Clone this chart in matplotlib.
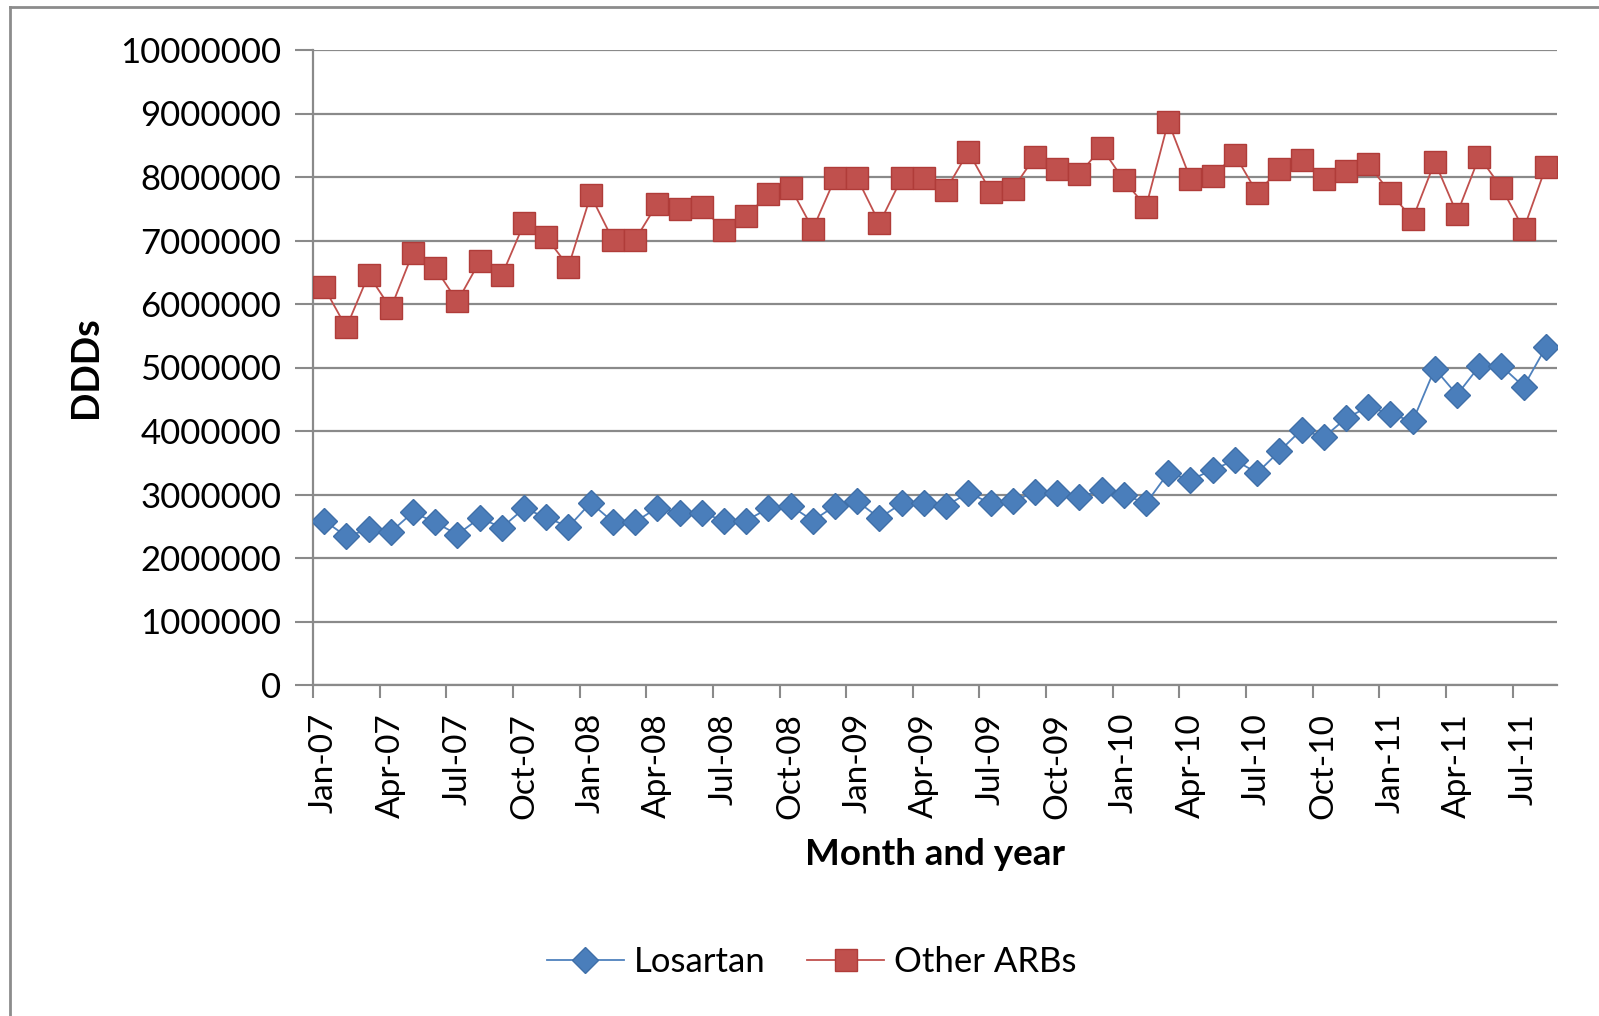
import matplotlib
matplotlib.use("Agg")
import matplotlib.pyplot as plt
from matplotlib.lines import Line2D

months = ["Jan", "Feb", "Mar", "Apr", "May", "Jun", "Jul", "Aug", "Sep", "Oct", "Nov", "Dec"]
categories = [f"{months[m]}-{y:02d}" for y in range(7, 12) for m in range(12)][:56]

losartan = [2.59, 2.34, 2.45, 2.41, 2.72, 2.56, 2.37, 2.63, 2.48, 2.78, 2.64, 2.49,
            2.87, 2.57, 2.57, 2.79, 2.71, 2.71, 2.59, 2.59, 2.78, 2.82, 2.59, 2.82,
            2.89, 2.63, 2.86, 2.86, 2.82, 3.03, 2.86, 2.89, 3.04, 3.02, 2.96, 3.07,
            3.00, 2.86, 3.34, 3.23, 3.39, 3.54, 3.34, 3.68, 4.02, 3.90, 4.20, 4.38,
            4.27, 4.15, 4.98, 4.57, 5.02, 5.02, 4.70, 5.32]
other_arbs = [6.26, 5.63, 6.46, 5.93, 6.81, 6.57, 6.04, 6.67, 6.45, 7.27, 7.05, 6.59,
              7.71, 7.01, 7.01, 7.58, 7.50, 7.53, 7.16, 7.38, 7.73, 7.83, 7.18, 7.98,
              7.98, 7.27, 7.98, 7.98, 7.80, 8.40, 7.77, 7.81, 8.32, 8.12, 8.05, 8.46,
              7.95, 7.53, 8.87, 7.97, 8.01, 8.35, 7.75, 8.12, 8.27, 7.97, 8.09, 8.20,
              7.75, 7.34, 8.24, 7.42, 8.32, 7.83, 7.18, 8.16]
losartan = [v * 1e6 for v in losartan]
other_arbs = [v * 1e6 for v in other_arbs]
yticks = list(range(0, 10000001, 1000000))

FONT = "Lato"
W, H = 1599, 1016
fig = plt.figure(figsize=(W / 100, H / 100), dpi=100)
fig.patch.set_facecolor("white")

# outer chart border (left and top visible)
fig.add_artist(Line2D([10 / W, 10 / W], [0, 1 - 7 / H], color="#8c8c8c", lw=2))
fig.add_artist(Line2D([10 / W, 1], [1 - 7 / H, 1 - 7 / H], color="#8c8c8c", lw=2))

ax = fig.add_axes([313 / W, 1 - 685 / H, (1557 - 313) / W, (685 - 50) / H])
x = list(range(len(categories)))

ax.plot(x, other_arbs, color="#C0504D", lw=1.3, marker="s", ms=16,
        markerfacecolor="#C0504D", markeredgecolor="#B03C39", markeredgewidth=1, zorder=3)
ax.plot(x, losartan, color="#4F81BD", lw=1.3, marker="D", ms=13.5,
        markerfacecolor="#4A7EBB", markeredgecolor="#3F6FA8", markeredgewidth=1, zorder=3)

ax.set_xlim(-0.5, len(categories) - 0.5)
ax.set_ylim(0, 10000000)
ax.set_yticks(yticks)
ax.set_yticklabels([str(v) for v in yticks], fontsize=25, family=FONT)
ax.yaxis.grid(True, color="#8a8a8a", lw=1.6)
ax.set_axisbelow(True)

major = list(range(0, len(categories), 3))
ax.set_xticks(major)
ax.set_xticklabels([categories[i] for i in major], rotation=90, fontsize=24, family=FONT)
ax.set_xticks([i - 0.5 for i in major], minor=True)
ax.tick_params(axis="x", which="major", length=0, pad=20)
ax.tick_params(axis="x", which="minor", length=9, width=1.5, color="#8a8a8a")
ax.tick_params(axis="y", length=13, width=1.5, color="#8a8a8a", pad=10)

for s in ["top", "right"]:
    ax.spines[s].set_visible(False)
for s in ["left", "bottom"]:
    ax.spines[s].set_color("#8a8a8a")
    ax.spines[s].set_linewidth(1.6)

ax.set_ylabel("DDDs", fontsize=27, fontweight="bold", family=FONT, labelpad=12)
ax.set_xlabel("Month and year", fontsize=26.5, fontweight="bold", family=FONT, labelpad=14)

handles = [Line2D([], [], color="#4F81BD", lw=1.3, marker="D", ms=13.5,
                  markerfacecolor="#4A7EBB", markeredgecolor="#3F6FA8"),
           Line2D([], [], color="#C0504D", lw=1.3, marker="s", ms=16,
                  markerfacecolor="#C0504D", markeredgecolor="#B03C39")]
fig.legend(handles, ["Losartan", "Other ARBs"], loc="center", bbox_to_anchor=(812 / W, 1 - 962 / H),
           ncol=2, frameon=False, prop={"family": FONT, "size": 25}, handlelength=2.2,
           columnspacing=1.2, handletextpad=0.3)

fig.savefig("out.png", dpi=100, facecolor="white")
